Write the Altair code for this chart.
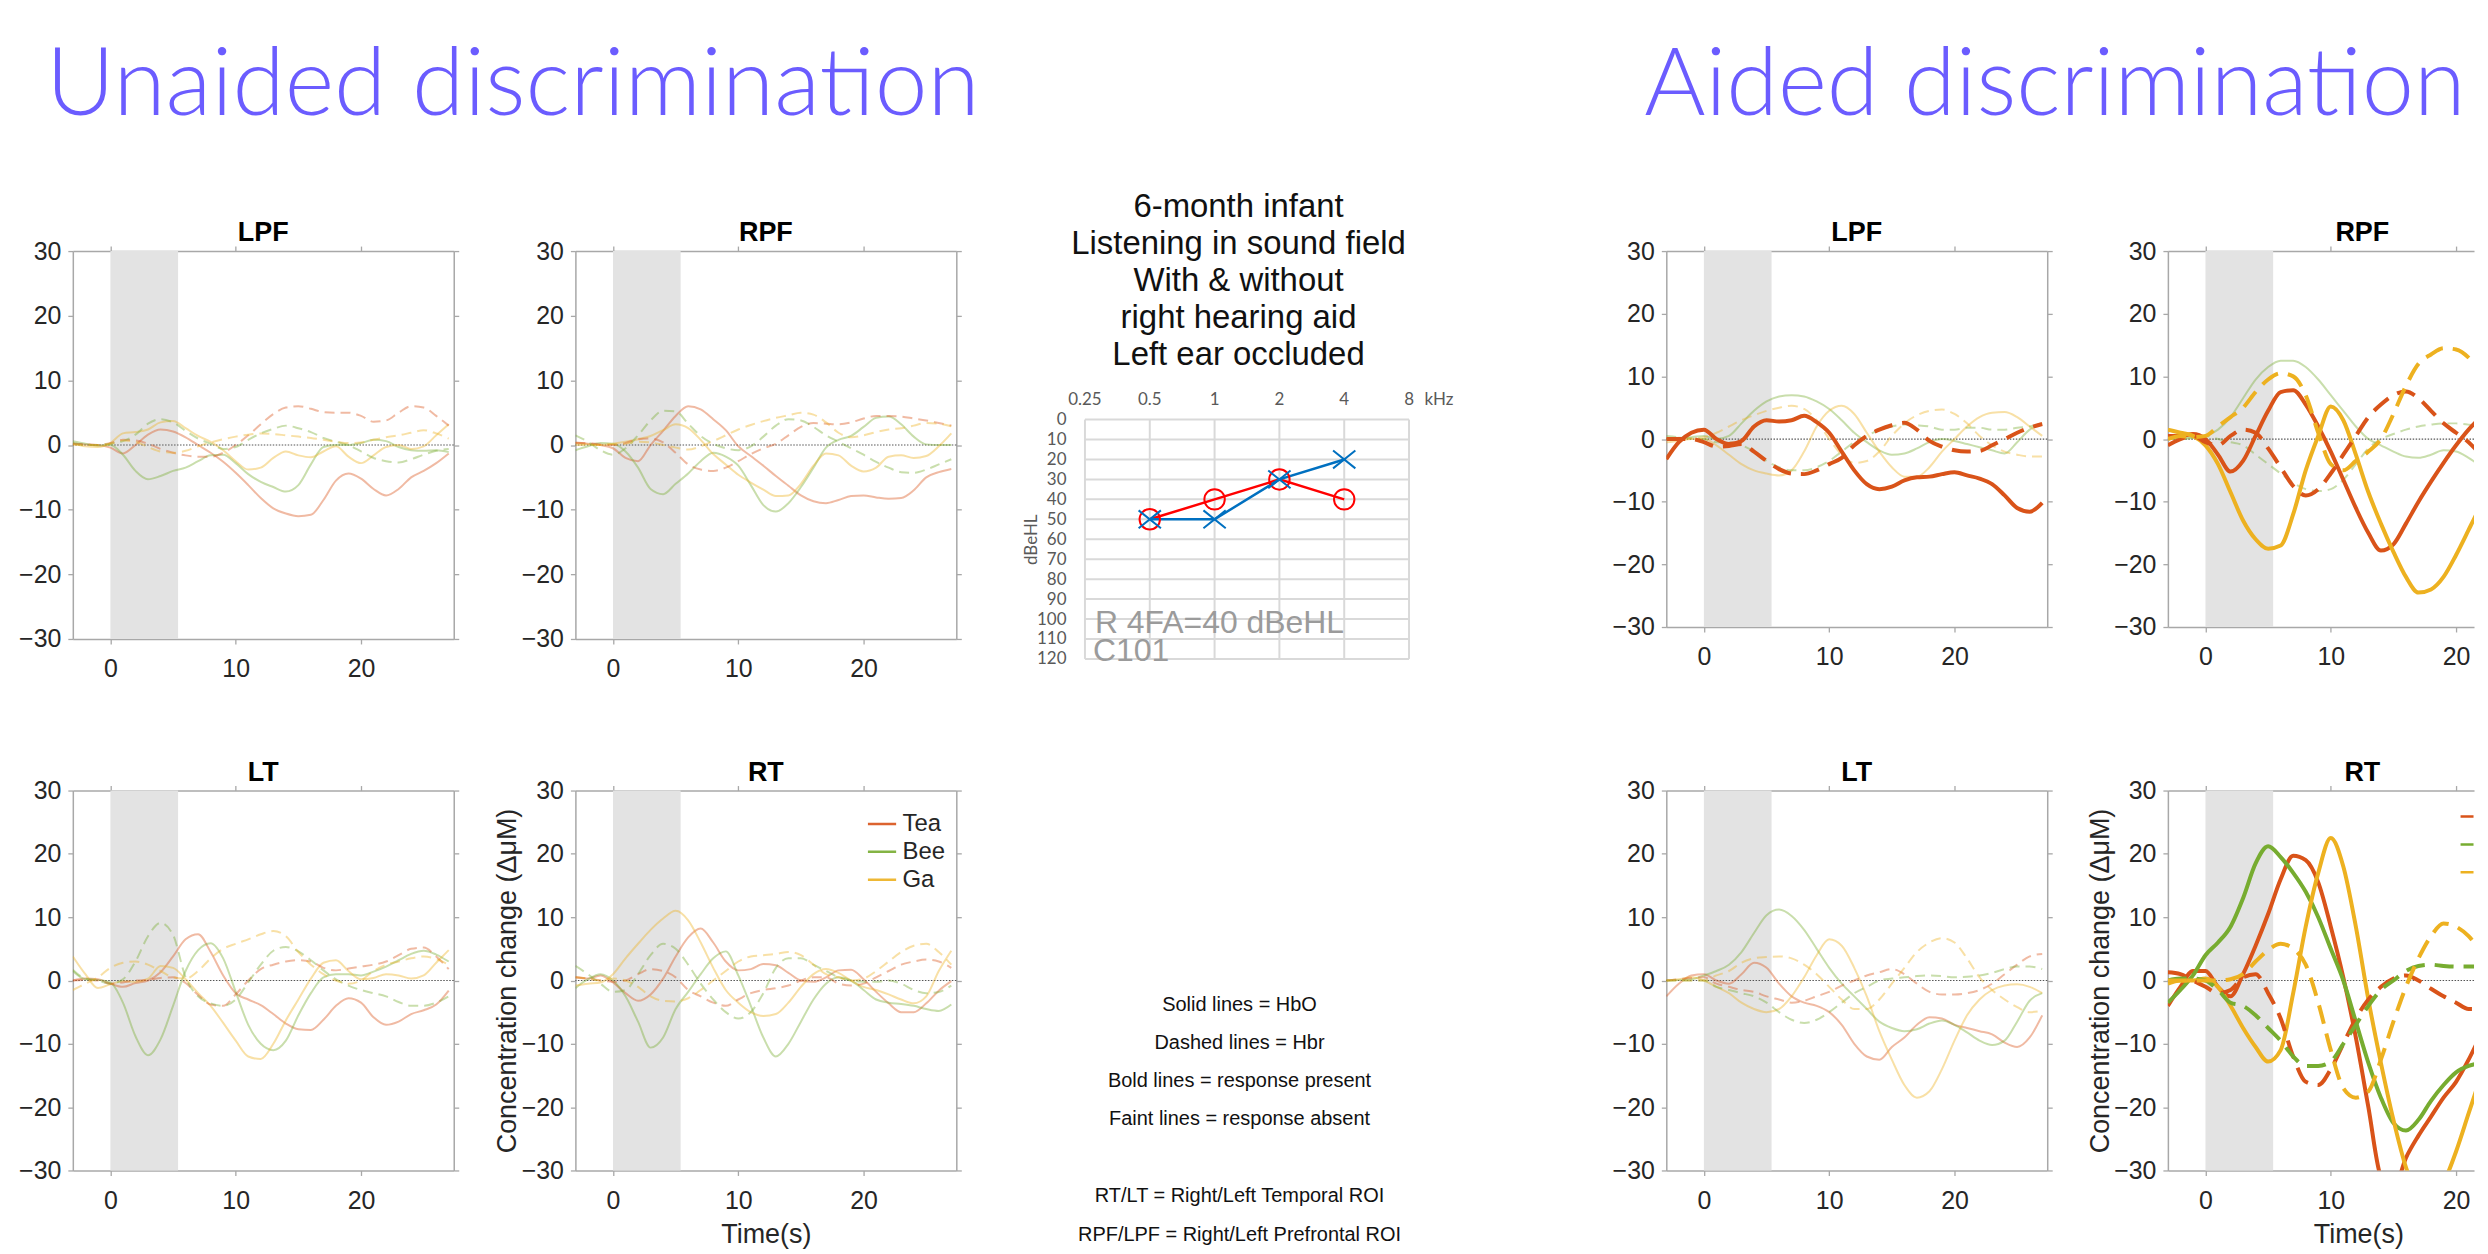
import altair as alt
import pandas as pd

# ---------------- time grid (s) ----------------
T = [-3, -2, -1, 0, 1, 2, 3, 4, 5, 6, 7, 8, 9, 10, 11, 12, 13, 14, 15, 16, 17, 18, 19, 20, 21, 22, 23, 24, 25, 26, 27]

SYLLABLES = ["Tea", "Bee", "Ga"]
SYL_COLORS = ["#D95319", "#77AC30", "#EDB120"]
STIM_ON, STIM_OFF = 0, 5.4
X_DOMAIN = [-3, 27.4]
Y_DOMAIN = [-30, 30]
X_TICKS = [0, 10, 20]
Y_TICKS = [-30, -20, -10, 0, 10, 20, 30]

# ---------------- Unaided: LPF ----------------
U_LPF_TEA_HBO = [0.2,0.1,0,-0.4,-1.3,0,1.6,2.4,2.1,1.2,0,-1.2,-2.6,-4.3,-6.2,-8.2,-9.8,-10.6,-11,-10.8,-8.5,-5.5,-4.4,-5.2,-6.8,-7.8,-6.8,-5,-4,-2.8,-1.3]
U_LPF_TEA_HBR = [0.2,0.1,0,0.3,0.8,0.7,0.2,-0.6,-1.2,-1.6,-1.8,-1.8,-1.2,0,1.5,3.2,4.8,5.8,6,5.6,5.1,5,5,4.5,3.6,3.8,5,6,5.8,4.5,3]
U_LPF_BEE_HBO = [0.6,0.2,-0.1,0,-1.5,-4,-5.3,-4.8,-4,-3.5,-2.5,-1.6,-1.5,-2.8,-4.5,-5.7,-6.5,-7.2,-6.2,-3,-0.3,0,0,0.3,0.8,0.6,-0.3,-0.8,-0.9,-0.8,-1.1]
U_LPF_BEE_HBR = [0.3,0,0,0.2,0.6,1.6,3.3,4,3.5,2.2,1,0.2,-0.6,-0.3,0.8,1.8,2.5,3,2.6,2,1.1,0.5,0,-1,-2,-2.5,-2.7,-2.2,-1.5,-0.9,-0.6]
U_LPF_GA_HBO = [0.3,-0.2,-0.3,0.3,1.8,2,2.4,3.5,3.7,2.6,1.4,0.5,-0.8,-2.5,-3.8,-3.5,-2,-1,-1.6,-1.9,-1,-0.2,-1.8,-2.8,-1.6,-0.3,0,-0.6,-0.2,1.5,3.2]
U_LPF_GA_HBR = [0,0,0,0.2,0.7,0.5,-0.3,-1,-1.2,-0.9,-0.2,0.4,0.9,1.3,1.6,1.8,1.7,1.5,1.3,1.1,0.8,0.5,0.3,0.4,0.8,1.2,1.5,1.9,2.3,1.8,1]

# ---------------- Unaided: RPF ----------------
U_RPF_TEA_HBO = [0.4,0.2,0,-0.5,-2,-2.5,0,2.2,4.5,6,5.5,4,2.3,-0.2,-1.7,-3.2,-4.8,-6.3,-7.8,-8.7,-9,-8.5,-7.9,-7.8,-8.1,-8.3,-8.2,-7,-5,-4.2,-3.7]
U_RPF_TEA_HBR = [0.3,0.3,0.1,0,0.3,0.9,1,0.4,-1.2,-3,-3.8,-4,-3.5,-2.5,-1.4,-0.5,0.2,1.5,2.8,3.4,3.3,3.2,3.5,4.1,4.5,4.5,4.4,4.1,3.8,3.4,3]
U_RPF_BEE_HBO = [-0.8,-0.2,0.3,0.2,-1,-3.5,-6.8,-7.6,-6,-4.4,-2.5,-1.2,-1.8,-3.2,-6.2,-9.3,-10.3,-9,-6.5,-3.5,-0.4,0.8,1.4,2.8,4.2,4.4,3.2,1.3,0.1,0,0]
U_RPF_BEE_HBR = [1.5,0.5,-0.8,-1.5,-0.5,1.5,3.8,5.3,5.2,3.3,1.4,0.2,-0.5,-0.8,-0.2,1.3,3,4,3.8,2.8,1.5,0.5,-0.5,-1.5,-2.6,-3.5,-4.2,-4.3,-3.8,-3,-2.2]
U_RPF_GA_HBO = [0.3,0.1,0,0.2,0.5,0.9,1.4,2.3,3.2,2.6,0.8,-1.4,-3,-4.6,-5.8,-6.9,-7.9,-7.8,-6,-3.2,-1.3,-1.6,-3.2,-4.1,-3.5,-1.8,-1.6,-2,-1.7,-0.2,1.8]
U_RPF_GA_HBR = [0,0,0,0.1,0.2,0.5,0.4,0,-0.4,-0.7,-0.2,0.6,1.5,2.4,3.1,3.7,4.2,4.6,5,4.7,3.5,1.9,1.2,1.5,2,2.4,2.6,3,3.4,3.3,2.9]

# ---------------- Unaided: LT ----------------
U_LT_TEA_HBO = [0,0.3,0.2,-0.5,-1,-0.4,0,1.3,3.8,6.5,7.3,4.5,0.8,-2,-3,-3.9,-5.3,-6.8,-7.7,-7.8,-6.2,-4,-2.8,-3.5,-5.8,-7,-6.5,-5.3,-4.7,-3.8,-1.6]
U_LT_TEA_HBR = [0,0.1,0,-0.5,-0.3,0,0.1,0.4,0.5,-0.4,-2.3,-3.8,-4,-2.2,0,1.8,2.5,3,3.2,3,2,1.6,1.9,2.2,2.5,3,4,5,5.2,3.8,1.8]
U_LT_BEE_HBO = [1.5,0.2,0.1,-0.3,-3.5,-8.8,-11.8,-9.3,-4,1.5,4.8,5.9,3.5,-1.8,-7,-10,-11,-9.5,-5.5,-2,0.5,1,1,0.8,1.4,2.2,3.2,4.2,4.7,4.1,3]
U_LT_BEE_HBR = [1.7,0.3,0,-0.5,0.2,3,7,9.1,7.2,0.5,-2.5,-3.6,-4,-3,-0.3,2.5,4.7,5.3,4.6,3.2,1.6,0.2,-0.8,-1.5,-2,-2.5,-3.4,-4,-4,-3.5,-2.5]
U_LT_GA_HBO = [3.8,1,-1.2,-0.6,-0.1,-0.2,0.3,2.3,2,0.2,-2,-4,-6.7,-9.5,-12,-12.4,-10,-6.3,-3,0.3,2.8,3.2,1.5,0.2,0.4,1,0.8,0.3,0.8,2.8,4.8]
U_LT_GA_HBR = [-1.5,-0.5,0.5,2,2.8,3,2.5,1.5,0.5,0.3,1.5,3.5,5,5.8,6.5,7.3,7.8,7,4.5,2.5,1,0,-0.5,0,1.5,2.5,3,3.5,3.8,3.4,2.5]

# ---------------- Unaided: RT ----------------
U_RT_TEA_HBO = [0.5,0.3,0.8,-0.3,-2,-3.2,-2.2,0.3,3.8,6.8,8.2,6,3,1.6,1.8,2.6,2.4,1.2,0,-0.2,0.5,1.6,1.7,0.2,-1.8,-3.6,-5,-5,-3.6,-1.6,-0.1]
U_RT_TEA_HBR = [0.5,0.3,0,-0.2,0,1,1.8,1.5,0.5,-1.5,-2.5,-3.5,-4,-3,-2,-1.5,-1.2,-0.8,0,0.5,0.5,-0.5,-0.8,-0.5,0.5,1.5,2.5,3,3.3,3,2]
U_RT_BEE_HBO = [-1.2,0.2,1,0,-2.5,-6.5,-10.6,-9,-4.5,-1.8,1,3.5,4.6,0.8,-4,-9,-12,-10,-6.5,-3,-0.5,0.5,0,-1.5,-3,-3.5,-3.7,-4,-4.5,-4.8,-3.8]
U_RT_BEE_HBR = [2.3,1,-0.5,-1.8,-1.5,1,4,5.8,5,2.5,-0.5,-3,-5,-6,-5,-2,2,3.5,3.5,2.5,1.5,0.5,0,-0.2,-0.2,0,-0.5,-1.5,-2,-1.8,-0.8]
U_RT_GA_HBO = [-0.8,-0.5,-0.3,1,3.5,5.8,8,9.8,11,9.5,6,2,-1.5,-3.5,-5,-5.6,-5.3,-3.5,-1,1,1.8,1.2,0,-1,-1.5,-2.2,-3,-3.6,-2.5,1.5,4.7]
U_RT_GA_HBR = [0.5,0.3,0,0.3,0,-1,-2.5,-3.2,-3.3,-2.8,-1.5,0,1.5,3,3.8,4,4.2,4.5,4,2.5,1,0.5,0,0.3,1.5,3,4.5,5.5,5.8,4.5,2.5]

# ---------------- Aided: LPF ----------------
A_LPF_TEA_HBO = [-3.2,-0.5,1,1.5,0,-0.8,-0.3,2,3,2.8,3,3.7,2.7,1,-2,-5,-7.2,-8,-7.6,-6.6,-6.1,-6,-5.6,-5.3,-5.8,-6.3,-7.2,-9,-11,-11.6,-10.2]
A_LPF_TEA_HBR = [0,0,0,-0.5,-1.2,-1.1,-0.8,-2,-3.5,-4.8,-5.5,-5.6,-5,-4,-3,-1,0.5,1.5,2.2,2.6,1.5,-0.3,-1.2,-1.8,-2,-1.9,-1,0,1,1.8,2.4]
A_LPF_BEE_HBO = [0,0.2,0.3,0.5,0,0.5,2.5,4.5,6,6.8,7,6.8,6,4.8,3,1,-0.5,-1.8,-2.5,-2.3,-1.5,-0.5,0,-0.3,-0.8,-1.3,-1.8,-2.3,-0.5,1.5,2.5]
A_LPF_BEE_HBR = [0.5,0.3,0.1,0,-0.5,-0.5,-1,-2,-3.5,-4.5,-5,-5,-4.5,-3.5,-2,-0.5,0.5,1.5,2,2.3,2.2,2,1.5,1.5,1.8,1.8,1.5,1.5,1.8,2,2.5]
A_LPF_GA_HBO = [-0.5,-0.3,0,0,-1,-2.5,-4,-5,-5.5,-5.8,-5,-2,2,4.5,5.3,4,1,-2,-4.5,-6,-6,-4.5,-2,0,2,3.5,4.2,4.3,3.5,2,0.5]
A_LPF_GA_HBR = [0,0,0.1,0.3,1,2,3,3.8,4.5,5,5.3,4.8,3,0,-2.5,-3.8,-3.5,-2,0.5,2.5,3.8,4.5,4.7,4,2.5,0.5,-1,-2,-2.5,-2.8,-2.8]

# ---------------- Aided: RPF (visible part, t = -3..23) ----------------
A_RPF_TEA_HBO = [0.5,0.5,0.8,0,-2.5,-5.2,-3.5,0.5,4.5,7.5,7.8,5.5,2,-2,-6.5,-11,-15,-17.8,-16.8,-13.5,-10,-6.8,-3.8,-1,1.5,3.5,5]
A_RPF_TEA_HBR = [-1,0,0.5,-0.5,-1,0.5,1.5,1,-1.5,-4.5,-7.5,-9,-8,-5.5,-2.5,0.5,3.5,5.5,7,7.6,6.5,4.5,2.5,1,-0.5,-2.5,-4]
A_RPF_BEE_HBO = [0,0,0.2,0.5,1.5,3.5,6.5,9.5,11.5,12.5,12.5,11.5,9.5,7,4.5,2,0,-1,-2,-2.8,-3,-2.5,-1.8,-2,-3,-4.3,-5]
A_RPF_BEE_HBR = [0,0.2,0.3,0.5,0,-0.5,-1,-2.5,-4,-5.5,-7,-8,-8.3,-8,-6.5,-4,-1.5,0,0.8,1.5,2,2.3,2.5,2.5,2.3,2,1.5]
A_RPF_GA_HBO = [1.5,1,0.5,-1,-4,-8.5,-13,-16,-17.5,-17,-12,-5,0.5,5.2,3,-2.5,-8.5,-13.5,-18,-22,-24.5,-24,-22,-18.5,-14.5,-10.4,-6]
A_RPF_GA_HBR = [0,0.5,0.3,0.5,2,3.5,5,7.5,9.5,10.5,10,7,1,-4,-5,-3.5,-2,0,4,8.5,12,13.5,14.5,14.3,13,10.5,7]

# ---------------- Aided: LT ----------------
A_LT_TEA_HBO = [-2.5,-0.5,0.8,1,0,-0.5,1,2.8,2,-0.5,-2.5,-3.5,-4,-5,-7,-10,-12,-12.5,-10.5,-9,-7,-5.8,-6,-7,-7.5,-8,-8.5,-9.8,-10.5,-9,-5.5]
A_LT_TEA_HBR = [0,0.2,0.4,0.5,-0.5,-1,-1.5,-1.8,-2.5,-3,-3.5,-3.2,-2.5,-1.8,-0.8,0,0.8,1.3,1.8,1,-0.5,-1.8,-2.2,-2.2,-2,-1.5,-0.5,1,2.5,3.8,4.2]
A_LT_BEE_HBO = [0,0.1,0.2,0.8,1.5,2.5,4.5,7.5,10.3,11.2,10.2,8,5,2,-0.5,-2.5,-4.5,-6.5,-7.5,-8,-7.7,-6.8,-6.3,-7,-8.2,-9.5,-10.2,-9.5,-6.5,-3.2,-2]
A_LT_BEE_HBR = [0,0,0,0,-1,-1.5,-2,-2.5,-3.5,-5,-6.2,-6.7,-6.2,-5,-3.5,-2,-1,0,0.3,0.5,0.7,0.8,0.7,0.5,0.6,0.8,1.2,1.8,2.2,2.2,1.8]
A_LT_GA_HBO = [0,0.2,0.5,0,-1,-2,-3.5,-4.5,-5,-4.5,-2.5,0.5,4,6.5,5.5,2,-2.5,-8,-12.5,-16.5,-18.5,-17.5,-14,-9.5,-5.5,-3,-1.5,-0.8,-0.6,-1,-2]
A_LT_GA_HBR = [0,0,0,0,0.8,1.5,2.8,3.5,3.7,3.8,3.5,2.5,1,-1,-3,-4.5,-4.5,-3,-0.5,2,4.5,6,6.7,6,3.5,0.5,-1.5,-3,-4.2,-5,-4.8]

# ---------------- Aided: RT (visible part, t = -3..23) ----------------
A_RT_TEA_HBO = [-4,-1,1.5,1.5,-1,-2.5,1,5.5,10.5,16,19.7,19,15.5,8.5,0.5,-9,-20,-31,-33,-28,-24.5,-21.5,-18.5,-16,-12.5,-8.5,-5]
A_RT_TEA_HBR = [1.3,1,0,-1,-2,-1.5,0.5,1,-2,-6,-12,-16,-16.5,-14,-10,-6,-3,-1,0.3,0.8,0,-1.3,-2.5,-3.5,-4.5,-4.5,-4]
A_RT_BEE_HBO = [-3.5,-1.5,0.8,4,6,8.5,13,18.5,21.2,19.5,17,14,10,5,0,-6.5,-13,-18.5,-22.5,-23.7,-22,-19,-16.5,-14.5,-13.5,-13,-12.8]
A_RT_BEE_HBR = [0,0.3,0.3,0,-1.5,-3.5,-4,-5.5,-7.5,-9.5,-12,-13.5,-13.5,-12.8,-10,-7,-4,-1.5,0,1.5,2.3,2.5,2.3,2.2,2.2,2.2,2.2]
A_RT_GA_HBO = [-0.5,0,0,0.3,-1,-4,-7.5,-10.5,-12.8,-11,-2,8.5,17,22.5,18,8.5,-3,-13,-22,-29.5,-34,-35,-32,-27,-21,-15,-9]
A_RT_GA_HBR = [0,0,0,0,0,0.2,1,3,4.8,5.8,5,2.5,-3.5,-11,-17,-18.5,-17.5,-12.5,-6.5,-1,3.5,7,9,8.5,7,4.5,1.5]

# ---------------- Audiogram ----------------
FREQ_GRID = [0.25, 0.5, 1, 2, 4, 8]
FREQ_LABELS = ["0.25", "0.5", "1", "2", "4", "8"]
DB_GRID = [0, 10, 20, 30, 40, 50, 60, 70, 80, 90, 100, 110, 120]
AUD_FREQ = [0.5, 1, 2, 4]
AUD_O_DB = [50, 40, 30, 40]
AUD_X_DB = [50, 50, 30, 20]

MID_LINES = ["6-month infant", "Listening in sound field", "With & without", "right hearing aid", "Left ear occluded"]
NOTE_LINES_A = ["Solid lines = HbO", "Dashed lines = Hbr", "Bold lines = response present",
                "Faint lines = response absent"]
NOTE_LINES_B = ["RT/LT = Right/Left Temporal ROI", "RPF/LPF = Right/Left Prefrontal ROI"]

# ---------------- styles ----------------
FONT = "Liberation Sans, Arial, sans-serif"
LBL = "#262626"
BOX = "#A8A8A8"
BAND = "#E3E3E3"
PURPLE = "#6B5CFF"
AGRID = "#D9D9D9"
AGRAY = "#595959"

PANEL_W = 382
CUT_W = 307          # right-hand aided column is cut by the picture edge
COL_W = [64, PANEL_W, 122, PANEL_W, 129, 325, 258, PANEL_W, 121, CUT_W]
ROW_H = [241, 409, 132, 381]
PX_PER_S = PANEL_W / (X_DOMAIN[1] - X_DOMAIN[0])
X_DOMAIN_CUT = [X_DOMAIN[0], X_DOMAIN[0] + CUT_W / PX_PER_S]
EDGE = dict(domain=True, domainColor=BOX, domainWidth=1.5)


def frame(curves):
    rows = []
    for syl, vals in curves:
        for t, v in zip(T, vals):
            rows.append({"t": t, "v": v, "syl": syl})
    return pd.DataFrame(rows)


def one():
    return pd.DataFrame({"a": [0]})


def spacer(w, h):
    return alt.Chart(one()).mark_point(opacity=0, size=1).encode(
        x=alt.value(1), y=alt.value(1)).properties(width=w, height=h)


def panel(title, curves, h, rt=False, cut=False):
    w = CUT_W if cut else PANEL_W
    xs = alt.Scale(domain=X_DOMAIN_CUT if cut else X_DOMAIN, nice=False, zero=False)
    ys = alt.Scale(domain=Y_DOMAIN, nice=False, zero=False)
    cs = alt.Scale(domain=SYLLABLES, range=SYL_COLORS)
    if cut:
        right_axis = None
    else:
        right_axis = alt.Axis(orient="right", values=Y_TICKS, labels=False, title=None, **EDGE)
    band = alt.Chart(pd.DataFrame({"s": [STIM_ON], "e": [STIM_OFF]})).mark_rect(color=BAND).encode(
        x=alt.X("s:Q", scale=xs,
                axis=alt.Axis(orient="top", values=X_TICKS, labels=False, title=None, **EDGE)),
        x2="e:Q",
        y=alt.YDatum(Y_DOMAIN[0], scale=ys, axis=right_axis),
        y2=alt.Y2Datum(Y_DOMAIN[1]),
    )
    zero = alt.Chart(one()).mark_rule(color="#555555", strokeDash=[1.5, 1.5], strokeWidth=1.2).encode(
        y=alt.YDatum(0, scale=ys, axis=None))
    layers = [band, zero]
    legend = None
    if rt and not cut:
        legend = alt.Legend(orient="none", legendX=292, legendY=18, title=None, symbolType="stroke",
                            symbolSize=800, symbolStrokeWidth=2.5, labelFontSize=24, labelFont=FONT,
                            labelColor=LBL, rowPadding=0, labelOffset=5, symbolDash=[1, 0],
                            symbolOpacity=0.9)
    elif rt and cut:
        legend = alt.Legend(orient="none", legendX=292, legendY=18, title=None, symbolType="stroke",
                            symbolSize=169, symbolStrokeWidth=2.5, labelFontSize=1, labelOpacity=0,
                            labelOffset=0, rowPadding=15, symbolDash=[1, 0], symbolOpacity=1)
    first = True
    for bold in (False, True):
        for hb in ("HbO", "HbR"):
            sel = [(s, v) for (s, b, bb, v) in curves if b == hb and bb == bold]
            if not sel:
                continue
            if first:
                xkw = dict(orient="bottom", values=X_TICKS, title="Time(s)" if rt else None,
                           labelPadding=13, titlePadding=8, **EDGE)
                if cut and rt:
                    xkw["titleX"] = PANEL_W / 2
                xa = alt.Axis(**xkw)
                ykw = dict(orient="left", values=Y_TICKS,
                           title="Concentration change (\u0394\u03bcM)" if rt else None,
                           labelPadding=7, **EDGE)
                if rt:
                    ykw.update(titleX=-68, titleY=h / 2, titleBaseline="middle", titleAlign="center")
                ya = alt.Axis(**ykw)
            else:
                xa = None
                ya = None
            mk = dict(clip=True, interpolate="monotone", strokeCap="butt")
            if bold:
                mk.update(strokeWidth=4)
            else:
                mk.update(strokeWidth=2, opacity=0.4)
            if hb == "HbR":
                mk.update(strokeDash=[19, 10] if bold else [10, 6])
            layers.append(alt.Chart(frame(sel)).mark_line(**mk).encode(
                x=alt.X("t:Q", scale=xs, axis=xa),
                y=alt.Y("v:Q", scale=ys, axis=ya),
                color=alt.Color("syl:N", scale=cs, legend=legend),
            ))
            first = False
    tkw = dict(fontSize=27, fontWeight="bold", font=FONT, color="#000000",
               anchor="middle", frame="group", offset=4, dy=33, baseline="alphabetic")
    if cut:
        tkw["dx"] = (PANEL_W - CUT_W) / 2 + 4
    return alt.layer(*layers).resolve_axis(x="independent", y="independent").properties(
        width=w, height=h, title=alt.Title(title, **tkw))


def curves(tea_o, tea_r, bee_o, bee_r, ga_o, ga_r, bold=(False, False, False)):
    return [("Tea", "HbO", bold[0], tea_o), ("Tea", "HbR", bold[0], tea_r),
            ("Bee", "HbO", bold[1], bee_o), ("Bee", "HbR", bold[1], bee_r),
            ("Ga", "HbO", bold[2], ga_o), ("Ga", "HbR", bold[2], ga_r)]


u_lpf = panel("LPF", curves(U_LPF_TEA_HBO, U_LPF_TEA_HBR, U_LPF_BEE_HBO, U_LPF_BEE_HBR, U_LPF_GA_HBO, U_LPF_GA_HBR), 389)
u_rpf = panel("RPF", curves(U_RPF_TEA_HBO, U_RPF_TEA_HBR, U_RPF_BEE_HBO, U_RPF_BEE_HBR, U_RPF_GA_HBO, U_RPF_GA_HBR), 389)
u_lt = panel("LT", curves(U_LT_TEA_HBO, U_LT_TEA_HBR, U_LT_BEE_HBO, U_LT_BEE_HBR, U_LT_GA_HBO, U_LT_GA_HBR), 381)
u_rt = panel("RT", curves(U_RT_TEA_HBO, U_RT_TEA_HBR, U_RT_BEE_HBO, U_RT_BEE_HBR, U_RT_GA_HBO, U_RT_GA_HBR), 381, rt=True)
a_lpf = panel("LPF", curves(A_LPF_TEA_HBO, A_LPF_TEA_HBR, A_LPF_BEE_HBO, A_LPF_BEE_HBR, A_LPF_GA_HBO, A_LPF_GA_HBR, (True, False, False)), 377)
a_rpf = panel("RPF", curves(A_RPF_TEA_HBO, A_RPF_TEA_HBR, A_RPF_BEE_HBO, A_RPF_BEE_HBR, A_RPF_GA_HBO, A_RPF_GA_HBR, (True, False, True)), 377, cut=True)
a_lt = panel("LT", curves(A_LT_TEA_HBO, A_LT_TEA_HBR, A_LT_BEE_HBO, A_LT_BEE_HBR, A_LT_GA_HBO, A_LT_GA_HBR), 381)
a_rt = panel("RT", curves(A_RT_TEA_HBO, A_RT_TEA_HBR, A_RT_BEE_HBO, A_RT_BEE_HBR, A_RT_GA_HBO, A_RT_GA_HBR, (True, True, True)), 381, rt=True, cut=True)

# ---------------- audiogram ----------------
AUD_H = ROW_H[1]
AUD_PLOT_H = 240
AUD_TOP = DB_GRID[-1] - AUD_H * (DB_GRID[-1] - DB_GRID[0]) / AUD_PLOT_H
axs = alt.Scale(type="log", base=2, domain=[FREQ_GRID[0], FREQ_GRID[-1]], nice=False)
ays = alt.Scale(domain=[AUD_TOP, DB_GRID[-1]], reverse=True, nice=False, zero=False)

hgrid = alt.Chart(pd.DataFrame({"d": DB_GRID})).mark_rule(color=AGRID, strokeWidth=2).encode(
    y=alt.Y("d:Q", scale=ays, axis=alt.Axis(
        orient="left", values=DB_GRID, ticks=False, domain=False, grid=False, labelPadding=19,
        labelFont="Lato", labelFontSize=17, labelColor=AGRAY, title="dBeHL", titleFont="Lato",
        titleFontSize=17, titleFontWeight="normal", titleColor=AGRAY, titleX=-54, titleY=289,
        titleBaseline="middle", titleAlign="center")),
    x=alt.XDatum(FREQ_GRID[0], scale=axs, axis=None),
    x2=alt.X2Datum(FREQ_GRID[-1]),
)
vgrid = alt.Chart(pd.DataFrame({"f": FREQ_GRID})).mark_rule(color=AGRID, strokeWidth=2).encode(
    x=alt.X("f:Q", scale=axs, axis=None),
    y=alt.YDatum(DB_GRID[0], scale=ays, axis=None),
    y2=alt.Y2Datum(DB_GRID[-1]),
)
flabels = alt.Chart(pd.DataFrame({"f": FREQ_GRID, "lab": FREQ_LABELS})).mark_text(
    font="Lato", fontSize=17, color=AGRAY, baseline="middle").encode(
    x=alt.X("f:Q", scale=axs, axis=None), y=alt.YDatum(-10, scale=ays, axis=None), text="lab:N")
khz = alt.Chart(one()).mark_text(font="Lato", fontSize=17, color=AGRAY, baseline="middle", dx=30).encode(
    x=alt.XDatum(FREQ_GRID[-1], scale=axs, axis=None), y=alt.YDatum(-10, scale=ays, axis=None),
    text=alt.value("kHz"))
o_df = pd.DataFrame({"f": AUD_FREQ, "db": AUD_O_DB})
x_df = pd.DataFrame({"f": AUD_FREQ, "db": AUD_X_DB})
enc = dict(x=alt.X("f:Q", scale=axs, axis=None), y=alt.Y("db:Q", scale=ays, axis=None))
o_line = alt.Chart(o_df).mark_line(color="#FF0000", strokeWidth=2.5).encode(**enc)
o_pts = alt.Chart(o_df).mark_point(shape="circle", filled=False, size=420, strokeWidth=2,
                                   color="#FF0000", opacity=1).encode(**enc)
x_line = alt.Chart(x_df).mark_line(color="#0070C0", strokeWidth=2.5).encode(**enc)
x_pts = alt.Chart(x_df).mark_point(shape="M-1,-0.8L1,0.8M-1,0.8L1,-0.8", filled=False, size=500,
                                   strokeWidth=2, color="#0070C0", opacity=1).encode(**enc)
ann1 = alt.Chart(one()).mark_text(align="left", baseline="middle", fontSize=32, color="#9B9B9B",
                                  font=FONT).encode(x=alt.value(10), y=alt.value(373),
                                                    text=alt.value("R 4FA=40 dBeHL"))
ann2 = alt.Chart(one()).mark_text(align="left", baseline="middle", fontSize=32, color="#9B9B9B",
                                  font=FONT).encode(x=alt.value(8), y=alt.value(401),
                                                    text=alt.value("C101"))
audiogram = alt.layer(hgrid, vgrid, flabels, khz, o_line, x_line, o_pts, x_pts, ann1, ann2).resolve_axis(
    x="independent", y="independent").properties(width=COL_W[5], height=AUD_H)

# ---------------- text cells ----------------
mid_text = alt.Chart(one()).mark_text(text=MID_LINES, font=FONT, fontSize=33, color="#111111",
                                      align="center", baseline="middle", lineHeight=37).encode(
    x=alt.value(154), y=alt.value(197)).properties(width=COL_W[5], height=ROW_H[0])
notes_a = alt.Chart(one()).mark_text(text=NOTE_LINES_A, font=FONT, fontSize=20, color="#111111",
                                     align="center", baseline="middle", lineHeight=38.3).encode(
    x=alt.value(155), y=alt.value(215))
notes_b = alt.Chart(one()).mark_text(text=NOTE_LINES_B, font=FONT, fontSize=20, color="#111111",
                                     align="center", baseline="middle", lineHeight=38.3).encode(
    x=alt.value(155), y=alt.value(407))
notes = alt.layer(notes_a, notes_b).properties(width=COL_W[5], height=ROW_H[3])
head_u = alt.Chart(one()).mark_text(text="Unaided discrimination", font="Lato", fontWeight=300,
                                    fontSize=95, color=PURPLE, align="left", baseline="alphabetic").encode(
    x=alt.value(-27), y=alt.value(105)).properties(width=COL_W[1], height=ROW_H[0])
head_a = alt.Chart(one()).mark_text(text="Aided discrimination", font="Lato", fontWeight=300,
                                    fontSize=94, color=PURPLE, align="left", baseline="alphabetic",
                                    limit=832, ellipsis="\u200b").encode(
    x=alt.value(-22), y=alt.value(105)).properties(width=COL_W[7], height=ROW_H[0])

row0 = [spacer(COL_W[0], ROW_H[0]), head_u, spacer(COL_W[2], ROW_H[0]), spacer(COL_W[3], ROW_H[0]),
        spacer(COL_W[4], ROW_H[0]), mid_text, spacer(COL_W[6], ROW_H[0]), head_a,
        spacer(COL_W[8], ROW_H[0]), spacer(COL_W[9], ROW_H[0])]
row1 = [spacer(1, 1), u_lpf, spacer(1, 1), u_rpf, spacer(1, 1), audiogram, spacer(1, 1), a_lpf,
        spacer(1, 1), a_rpf]
row2 = [spacer(1, ROW_H[2])] + [spacer(1, 1) for _ in range(9)]
row3 = [spacer(1, 1), u_lt, spacer(1, 1), u_rt, spacer(1, 1), notes, spacer(1, 1), a_lt,
        spacer(1, 1), a_rt]

chart = alt.concat(*(row0 + row1 + row2 + row3), columns=10, spacing=0, bounds="flush",
                   align="each").resolve_scale(color="independent").properties(padding=0)
chart = chart.configure_view(stroke="transparent").configure_axis(
    labelFont=FONT, labelFontSize=25, labelColor=LBL, tickColor=BOX, tickSize=5, tickWidth=1.3,
    domain=False, grid=False, titleFont=FONT, titleFontSize=27, titleFontWeight="normal",
    titleColor=LBL)

chart.save("out.html", embed_options={"renderer": "svg", "actions": False})
